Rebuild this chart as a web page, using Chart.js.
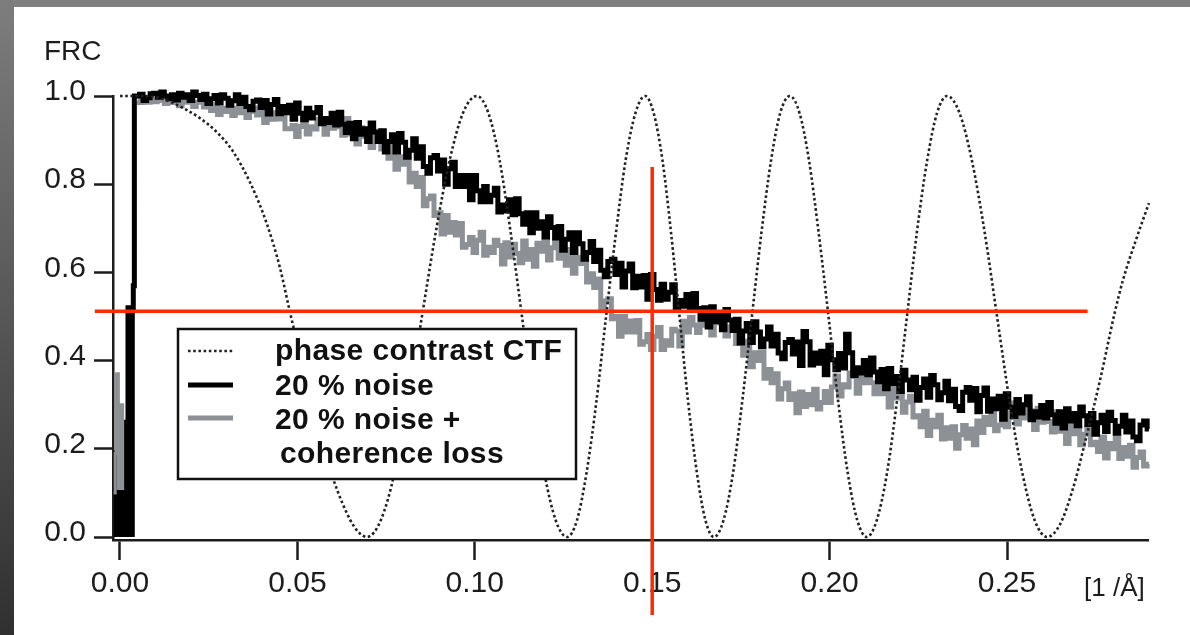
<!DOCTYPE html>
<html>
<head>
<meta charset="utf-8">
<script src="https://cdn.jsdelivr.net/npm/chart.js@4.4.1/dist/chart.umd.min.js"></script>
<style>
  html, body { margin: 0; padding: 0; }
  body { width: 1190px; height: 635px; position: relative; overflow: hidden; background: #7f7f7f; }
  #side { position: absolute; left: 0; top: 0; width: 14px; height: 635px; background: linear-gradient(#7d7d7d, #303030); }
  #panel { position: absolute; left: 14px; top: 7px; width: 1176px; height: 628px; background: #ffffff; }
  #wrap { position: absolute; left: 0; top: 0; width: 1190px; height: 635px; }
</style>
</head>
<body>
<div id="side"></div>
<div id="panel"></div>
<div id="wrap"><canvas id="frc" width="1190" height="635"></canvas></div>
<script>
// Spatial frequency (1/Å) and value of the phase contrast CTF
const ctfK = [
  0.0, 0.0056, 0.0113, 0.0189, 0.0225, 0.0273, 0.0318, 0.0366, 0.0414, 0.0451, 0.0479, 0.0507, 0.0536, 0.0569, 0.0606, 0.0648, 0.0671,
  0.0696, 0.0735, 0.0774, 0.0812, 0.0851, 0.0890, 0.0929, 0.0967, 0.1006,
  0.1038, 0.1070, 0.1101, 0.1133, 0.1165, 0.1196, 0.1228, 0.1260,
  0.1288, 0.1315, 0.1343, 0.1370, 0.1398, 0.1425, 0.1453, 0.1480,
  0.1504, 0.1529, 0.1553, 0.1577, 0.1601, 0.1626, 0.1650, 0.1674,
  0.1701, 0.1728, 0.1754, 0.1781, 0.1808, 0.1835, 0.1861, 0.1888,
  0.1915, 0.1942, 0.1969, 0.1997, 0.2024, 0.2051, 0.2078, 0.2105,
  0.2133, 0.2162, 0.2190, 0.2218, 0.2246, 0.2275, 0.2303, 0.2331,
  0.2366, 0.2401, 0.2437, 0.2472, 0.2507, 0.2543, 0.2578, 0.2613,
  0.2649, 0.2686, 0.2720, 0.2762, 0.2804, 0.2827, 0.2864, 0.2900
];
const ctfFRC = [
  1.0, 1.0, 0.995, 0.968, 0.95, 0.918, 0.875, 0.805, 0.71, 0.61, 0.51, 0.415, 0.32, 0.215, 0.12, 0.04, 0.012,
  0, 0.038, 0.146, 0.309, 0.5, 0.691, 0.854, 0.962, 1.0,
  0.962, 0.854, 0.691, 0.5, 0.309, 0.146, 0.038, 0,
  0.038, 0.146, 0.309, 0.5, 0.691, 0.854, 0.962, 1.0,
  0.962, 0.854, 0.691, 0.5, 0.309, 0.146, 0.038, 0,
  0.038, 0.146, 0.309, 0.5, 0.691, 0.854, 0.962, 1.0,
  0.962, 0.854, 0.691, 0.5, 0.309, 0.146, 0.038, 0,
  0.038, 0.146, 0.309, 0.5, 0.691, 0.854, 0.962, 1.0,
  0.962, 0.854, 0.691, 0.5, 0.309, 0.146, 0.038, 0,
  0.028, 0.11, 0.215, 0.355, 0.51, 0.583, 0.675, 0.757
];

// Lowest frequencies, sampled finely: k = LOW_K0 + i * LOW_STEP
const LOW_K0 = -0.0018, LOW_STEP = 0.0003;
const noiseLow = [0.1, 0.1, 0.1, 0.19, 0.19, 0.19, 0.19, 0.19, 0.18, 0.19, 0.19, 0.26, 0.26, 0.26, 0.52, 0.52, 0.52, 0.52, 0.52, 0.57, 1.0];
const coherenceLow = [0.1, 0.1, 0.19, 0.37, 0.37, 0.11, 0.11, 0.30, 0.30, 0.11, 0.11];

// Main FRC curves: k = MAIN_K0 + i * MAIN_STEP (0.005 ... 0.290)
const MAIN_K0 = 0.005, MAIN_STEP = 0.001;
const noiseFRC = [
  1.0, 1.004, 0.99, 0.996, 1.005,
  1.006, 0.997, 1.009, 1.0, 0.994, 1.003, 0.991, 1.006, 0.997, 1.003,
  0.990, 1.009, 1.001, 0.992, 1.004, 0.983, 0.994, 1.001, 0.984, 1.003,
  0.995, 0.979, 0.989, 1.003, 0.983, 0.997, 0.976, 0.969, 0.988, 0.991,
  0.974, 0.990, 0.959, 0.981, 0.992, 0.960, 0.976, 0.962, 0.979, 0.947,
  0.984, 0.961, 0.946, 0.972, 0.950, 0.962, 0.974, 0.937, 0.949, 0.940,
  0.961, 0.934, 0.963, 0.936, 0.917, 0.938, 0.903, 0.940, 0.913, 0.926,
  0.897, 0.939, 0.918, 0.897, 0.921, 0.873, 0.897, 0.912, 0.873, 0.915,
  0.895, 0.861, 0.877, 0.903, 0.859, 0.885, 0.840, 0.825, 0.860, 0.865,
  0.830, 0.855, 0.800, 0.835, 0.850, 0.795, 0.820, 0.795, 0.820, 0.765,
  0.820, 0.785, 0.760, 0.795, 0.760, 0.775, 0.791, 0.737, 0.753, 0.739,
  0.765, 0.731, 0.767, 0.733, 0.709, 0.735, 0.690, 0.735, 0.700, 0.715,
  0.680, 0.726, 0.702, 0.678, 0.704, 0.650, 0.675, 0.690, 0.645, 0.690,
  0.665, 0.630, 0.645, 0.670, 0.625, 0.650, 0.605, 0.590, 0.625, 0.630,
  0.595, 0.621, 0.567, 0.603, 0.619, 0.565, 0.591, 0.567, 0.593, 0.539,
  0.595, 0.561, 0.537, 0.573, 0.539, 0.555, 0.572, 0.519, 0.536, 0.523,
  0.550, 0.516, 0.552, 0.518, 0.494, 0.520, 0.476, 0.522, 0.488, 0.504,
  0.470, 0.516, 0.492, 0.468, 0.494, 0.440, 0.467, 0.484, 0.441, 0.488,
  0.465, 0.432, 0.449, 0.476, 0.433, 0.460, 0.417, 0.404, 0.441, 0.448,
  0.415, 0.442, 0.389, 0.466, 0.443, 0.390, 0.417, 0.394, 0.421, 0.368,
  0.435, 0.402, 0.379, 0.416, 0.383, 0.460, 0.418, 0.366, 0.384, 0.372,
  0.400, 0.368, 0.406, 0.374, 0.352, 0.380, 0.336, 0.382, 0.348, 0.364,
  0.330, 0.378, 0.356, 0.334, 0.362, 0.310, 0.339, 0.358, 0.317, 0.366,
  0.345, 0.311, 0.327, 0.353, 0.309, 0.335, 0.296, 0.287, 0.328, 0.339,
  0.310, 0.337, 0.284, 0.321, 0.338, 0.285, 0.313, 0.291, 0.319, 0.267,
  0.325, 0.294, 0.273, 0.312, 0.281, 0.300, 0.318, 0.266, 0.284, 0.272,
  0.298, 0.270, 0.305, 0.277, 0.258, 0.284, 0.247, 0.291, 0.263, 0.280,
  0.252, 0.295, 0.275, 0.255, 0.280, 0.233, 0.259, 0.276, 0.239, 0.283,
  0.264, 0.235, 0.251, 0.276, 0.238, 0.263, 0.227, 0.218, 0.254, 0.263,
  0.245
];
const coherenceFRC = [
  0.99, 0.985, 0.993, 0.986, 0.991,
  0.987, 0.996, 0.990, 0.983, 0.998, 0.985, 0.991, 0.978, 0.993, 0.986,
  0.993, 0.976, 0.986, 0.993, 0.975, 0.978, 0.967, 0.981, 0.958, 0.972,
  0.965, 0.981, 0.956, 0.972, 0.962, 0.978, 0.951, 0.965, 0.973, 0.957,
  0.966, 0.940, 0.967, 0.947, 0.962, 0.948, 0.961, 0.926, 0.926, 0.933,
  0.908, 0.931, 0.947, 0.914, 0.930, 0.925, 0.947, 0.940, 0.913, 0.948,
  0.927, 0.948, 0.930, 0.911, 0.949, 0.914, 0.927, 0.891, 0.928, 0.908,
  0.923, 0.883, 0.906, 0.920, 0.880, 0.885, 0.859, 0.887, 0.834, 0.862,
  0.845, 0.865, 0.805, 0.825, 0.795, 0.815, 0.751, 0.767, 0.773, 0.729,
  0.735, 0.687, 0.729, 0.691, 0.713, 0.685, 0.711, 0.657, 0.663, 0.679,
  0.645, 0.673, 0.691, 0.639, 0.657, 0.645, 0.673, 0.661, 0.619, 0.667,
  0.635, 0.664, 0.643, 0.622, 0.671, 0.630, 0.652, 0.614, 0.666, 0.648,
  0.670, 0.628, 0.656, 0.674, 0.632, 0.640, 0.616, 0.652, 0.598, 0.634,
  0.620, 0.639, 0.578, 0.597, 0.566, 0.585, 0.520, 0.535, 0.540, 0.495,
  0.500, 0.455, 0.500, 0.465, 0.490, 0.465, 0.491, 0.437, 0.443, 0.459,
  0.425, 0.455, 0.475, 0.425, 0.445, 0.435, 0.471, 0.467, 0.433, 0.489,
  0.465, 0.498, 0.481, 0.464, 0.517, 0.480, 0.499, 0.458, 0.507, 0.486,
  0.505, 0.456, 0.477, 0.488, 0.439, 0.440, 0.412, 0.444, 0.386, 0.418,
  0.400, 0.420, 0.360, 0.380, 0.350, 0.370, 0.313, 0.336, 0.349, 0.312,
  0.325, 0.282, 0.329, 0.296, 0.323, 0.300, 0.335, 0.290, 0.305, 0.330,
  0.305, 0.340, 0.365, 0.320, 0.345, 0.340, 0.372, 0.364, 0.326, 0.378,
  0.350, 0.375, 0.350, 0.325, 0.370, 0.325, 0.340, 0.295, 0.340, 0.315,
  0.330, 0.283, 0.306, 0.319, 0.272, 0.275, 0.250, 0.285, 0.230, 0.265,
  0.250, 0.276, 0.222, 0.248, 0.224, 0.250, 0.201, 0.232, 0.253, 0.224,
  0.245, 0.209, 0.263, 0.237, 0.271, 0.255, 0.288, 0.241, 0.254, 0.277,
  0.250, 0.282, 0.304, 0.256, 0.278, 0.270, 0.298, 0.286, 0.244, 0.292,
  0.260, 0.286, 0.262, 0.238, 0.284, 0.240, 0.256, 0.212, 0.258, 0.234,
  0.248, 0.209, 0.233, 0.248, 0.209, 0.215, 0.194, 0.227, 0.179, 0.212,
  0.200, 0.225, 0.178, 0.203, 0.183, 0.208, 0.158, 0.180, 0.193, 0.161,
  0.165
];

const kTicks = [0, 0.05, 0.10, 0.15, 0.20, 0.25];
const frcTicks = [0, 0.2, 0.4, 0.6, 0.8, 1.0];
const seriesLabels = ['phase contrast CTF', '20 % noise', '20 % noise +', 'coherence loss'];
const yTitle = 'FRC';
const xTitle = '[1 /Å]';

// Resolution cut-off marker (k, FRC) and how far its two red lines reach
const cutoffK = 0.15, cutoffFRC = 0.512;
const cutoffSpanK = [-0.0071, 0.2727];
const cutoffSpanFRC = [0.839, -0.177];

const FONT = "'Liberation Sans', Helvetica, Arial, sans-serif";
const INK = '#1c1c1c';
const GREY = '#8d9195';
const RED = '#ff2a00';
const DOT = [2.6, 2.6];

function sampled(k0, step, values) {
  return values.map((v, i) => ({ x: +(k0 + i * step).toFixed(5), y: v }));
}

const ctfPoints = ctfK.map((k, i) => ({ x: k, y: ctfFRC[i] }));
const noiseLowPoints = sampled(LOW_K0, LOW_STEP, noiseLow);
const noisePoints = noiseLowPoints.concat(sampled(MAIN_K0, MAIN_STEP, noiseFRC));
const coherenceLowPoints = sampled(LOW_K0, LOW_STEP, coherenceLow);
const coherencePoints = sampled(MAIN_K0, MAIN_STEP, coherenceFRC);

// Legend box, titles and the red cut-off cross, drawn over the curves
const overlay = {
  id: 'overlay',
  afterDatasetsDraw(chart) {
    const { ctx, scales: { x, y } } = chart;
    ctx.save();

    // legend box
    const bx = 178, by = 329, bw = 398, bh = 150;
    ctx.fillStyle = '#ffffff';
    ctx.fillRect(bx, by, bw, bh);
    ctx.strokeStyle = '#111';
    ctx.lineWidth = 2.5;
    ctx.strokeRect(bx, by, bw, bh);

    // legend samples
    ctx.lineCap = 'butt';
    ctx.strokeStyle = '#222';
    ctx.lineWidth = 2.6;
    ctx.setLineDash(DOT);
    ctx.beginPath(); ctx.moveTo(188, 351); ctx.lineTo(233, 351); ctx.stroke();
    ctx.setLineDash([]);
    ctx.strokeStyle = '#000';
    ctx.lineWidth = 5;
    ctx.beginPath(); ctx.moveTo(188, 385); ctx.lineTo(233, 385); ctx.stroke();
    ctx.strokeStyle = GREY;
    ctx.beginPath(); ctx.moveTo(188, 418); ctx.lineTo(233, 418); ctx.stroke();

    // legend texts
    ctx.fillStyle = '#111';
    ctx.font = 'bold 30px ' + FONT;
    ctx.textAlign = 'left';
    ctx.textBaseline = 'alphabetic';
    if ('letterSpacing' in ctx) ctx.letterSpacing = '0.4px';
    ctx.fillText(seriesLabels[0], 275, 360);
    ctx.fillText(seriesLabels[1], 275, 395);
    ctx.fillText(seriesLabels[2], 275, 429);
    ctx.fillText(seriesLabels[3], 280, 463);
    if ('letterSpacing' in ctx) ctx.letterSpacing = '0px';

    // red cut-off cross
    ctx.strokeStyle = RED;
    ctx.lineWidth = 3.5;
    const hy = y.getPixelForValue(cutoffFRC);
    ctx.beginPath();
    ctx.moveTo(x.getPixelForValue(cutoffSpanK[0]), hy);
    ctx.lineTo(x.getPixelForValue(cutoffSpanK[1]), hy);
    ctx.stroke();
    const vx = x.getPixelForValue(cutoffK);
    ctx.beginPath();
    ctx.moveTo(vx, y.getPixelForValue(cutoffSpanFRC[0]));
    ctx.lineTo(vx, y.getPixelForValue(cutoffSpanFRC[1]));
    ctx.stroke();

    // axis titles
    ctx.fillStyle = INK;
    ctx.font = '28px ' + FONT;
    ctx.fillText(yTitle, 44, 60);
    ctx.font = '26px ' + FONT;
    ctx.fillText(xTitle, 1084, 596);

    ctx.restore();
  }
};

Chart.defaults.font.family = FONT;
Chart.defaults.color = INK;

// Datasets listed first are drawn on top
new Chart(document.getElementById('frc'), {
  type: 'line',
  data: {
    datasets: [
      {
        label: seriesLabels[0],
        data: ctfPoints,
        borderColor: '#222',
        borderWidth: 2.6,
        borderDash: DOT,
        cubicInterpolationMode: 'monotone',
        pointRadius: 0,
        clip: false
      },
      {
        label: 'coherence loss, lowest k',
        data: coherenceLowPoints,
        borderColor: GREY,
        borderWidth: 3,
        stepped: 'middle',
        pointRadius: 0,
        clip: false
      },
      {
        label: seriesLabels[1],
        data: noisePoints,
        borderColor: '#000000',
        borderWidth: 5,
        stepped: 'middle',
        pointRadius: 0,
        clip: false
      },
      {
        label: 'noise, lowest k',
        data: noiseLowPoints,
        borderColor: '#000000',
        borderWidth: 0,
        backgroundColor: '#000000',
        fill: 'origin',
        stepped: 'middle',
        pointRadius: 0,
        clip: false
      },
      {
        label: seriesLabels[2] + ' ' + seriesLabels[3],
        data: coherencePoints,
        borderColor: GREY,
        borderWidth: 5,
        stepped: 'middle',
        pointRadius: 0,
        clip: false
      }
    ]
  },
  options: {
    responsive: false,
    devicePixelRatio: 1,
    animation: false,
    events: [],
    layout: { padding: { left: 0, top: 96, right: 42, bottom: 0 } },
    plugins: { legend: { display: false }, tooltip: { enabled: false } },
    scales: {
      x: {
        type: 'linear',
        min: -0.00197,
        max: 0.28974,
        afterBuildTicks: s => { s.ticks = kTicks.map(v => ({ value: v })); },
        afterFit: s => { s.height = 95; },
        ticks: {
          callback: v => Number(v).toFixed(2),
          font: { size: 30 },
          color: INK,
          padding: 6,
          maxRotation: 0,
          autoSkip: false
        },
        grid: { drawOnChartArea: false, drawTicks: true, tickLength: 20, tickWidth: 2.5, tickColor: INK },
        border: { display: true, color: INK, width: 2.5 }
      },
      y: {
        type: 'linear',
        min: -0.0068,
        max: 1.0,
        afterBuildTicks: s => { s.ticks = frcTicks.map(v => ({ value: v })); },
        afterFit: s => { s.width = 113; },
        ticks: {
          callback: v => Number(v).toFixed(1),
          font: { size: 30 },
          color: INK,
          padding: 8,
          labelOffset: -4,
          autoSkip: false
        },
        grid: { drawOnChartArea: false, drawTicks: true, tickLength: 19, tickWidth: 2.5, tickColor: INK },
        border: { display: true, color: INK, width: 2.5 }
      }
    }
  },
  plugins: [overlay]
});
</script>
</body>
</html>
